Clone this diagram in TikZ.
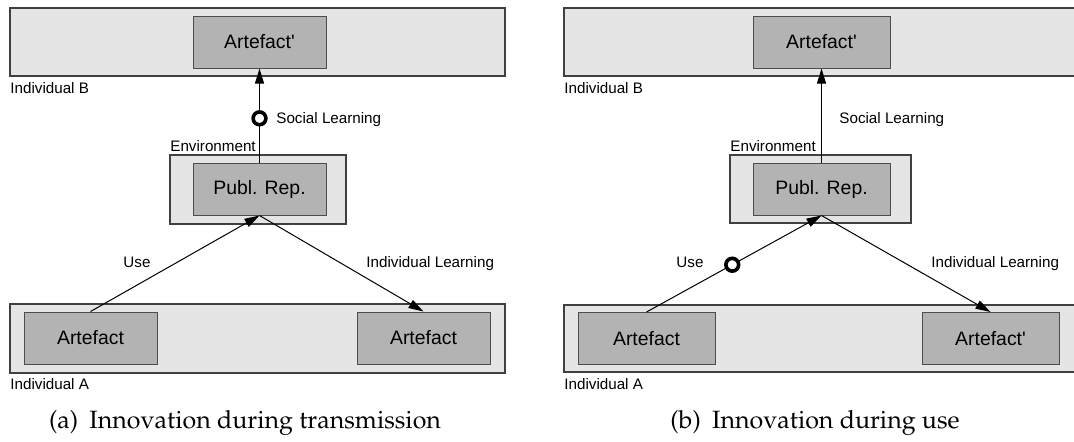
\documentclass[tikz,border=0pt]{standalone}
\usepackage[T1]{fontenc}
\usepackage{fontspec}
\setmainfont{Liberation Sans}
\usetikzlibrary{fit,arrows.meta}
\newcommand{\capfont}{\fontencoding{T1}\fontfamily{ppl}\selectfont}
\newcommand{\prm}{\textquotesingle}
\definecolor{outerfill}{HTML}{E5E5E5}
\definecolor{innerfill}{HTML}{B3B3B3}
\tikzset{
  container/.style={draw=black!75, fill=outerfill, line width=0.6pt, inner sep=0pt},
  itembox/.style={draw=black!70, fill=innerfill, line width=0.5pt, inner sep=0pt,
                  minimum height=26pt, font=\fontsize{9.7}{12}\selectfont},
  boxa/.style={itembox, minimum width=66.5pt},
  boxb/.style={itembox, minimum width=68.5pt},
  tag/.style={font=\fontsize{7.6}{9}\selectfont, inner sep=0pt},
  arr/.style={line width=0.5pt, -{Triangle[length=7.5pt,width=4.5pt]}},
  ring/.style={circle, draw, line width=1.8pt, fill=white, minimum size=6.4pt, inner sep=0pt},
  caption/.style={font=\capfont\fontsize{12.5}{14}\selectfont, inner sep=0pt}
}
\begin{document}
\begin{tikzpicture}[x=0.5pt,y=-0.5pt]
\useasboundingbox (0,0) rectangle (1074,441);
\clip (0,0) rectangle (1074,441);

% ---- (a) innovation during transmission ----
\node[container, fit={(10,8)(505,76)}] (indBa) {};
\node[boxa] (artBa) at (259.5,42) {Artefact\prm};
\node[tag, anchor=base west] (labBa) at (10,93) {Individual B};
\node[container, fit={(170,155)(346,224)}] (envA) {};
\node[boxa] (pubA) at (259.5,189) {Publ. Rep.};
\node[tag, anchor=base west] (labEa) at (170,151) {Environment};
\node[container, fit={(10,304)(505,373)}] (indAa) {};
\node[boxa] (artA1a) at (90.5,338) {Artefact};
\node[boxa] (artA2a) at (423.5,338) {Artefact};
\node[tag, anchor=base west] (labAa) at (10,389) {Individual A};

\draw[arr] (pubA.north) -- node[ring, pos=0.47] (ringA) {} (artBa.south);
\draw[arr] (artA1a.north) -- (pubA.south);
\draw[arr] (pubA.south) -- (artA2a.north);

\node[tag, anchor=base] (useA) at (137,267) {Use};
\node[tag, anchor=base west] (ilA) at (366,267) {Individual Learning};
\node[tag, anchor=base west] (slA) at (276,123) {Social Learning};
\node[caption, anchor=base] (capA) at (245,428) {(a)\hspace{0.45em}Innovation during transmission};

% ---- (b) innovation during use ----
\node[container, fit={(564,8)(1082,76)}] (indBb) {};
\node[boxb] (artBb) at (821.5,42) {Artefact\prm};
\node[tag, anchor=base west] (labBb) at (564,93) {Individual B};
\node[container, fit={(730,155)(911,223)}] (envB) {};
\node[boxb] (pubB) at (821.5,189) {Publ. Rep.};
\node[tag, anchor=base west] (labEb) at (730,151) {Environment};
\node[container, fit={(564,305)(1082,372)}] (indAb) {};
\node[boxb] (artA1b) at (646.5,338.5) {Artefact};
\node[boxb] (artA2b) at (990.5,338.5) {Artefact\prm};
\node[tag, anchor=base west] (labAb) at (564,389) {Individual A};

\draw[arr] (pubB.north) -- (artBb.south);
\draw[arr] (artA1b.north) -- node[ring, pos=0.49] (ringB) {} (pubB.south);
\draw[arr] (pubB.south) -- (artA2b.north);

\node[tag, anchor=base] (useB) at (690,267) {Use};
\node[tag, anchor=base west] (ilB) at (931,267) {Individual Learning};
\node[tag, anchor=base west] (slB) at (839,123) {Social Learning};
\node[caption, anchor=base] (capB) at (815,428) {(b)\hspace{0.45em}Innovation during use};
\end{tikzpicture}
\end{document}
